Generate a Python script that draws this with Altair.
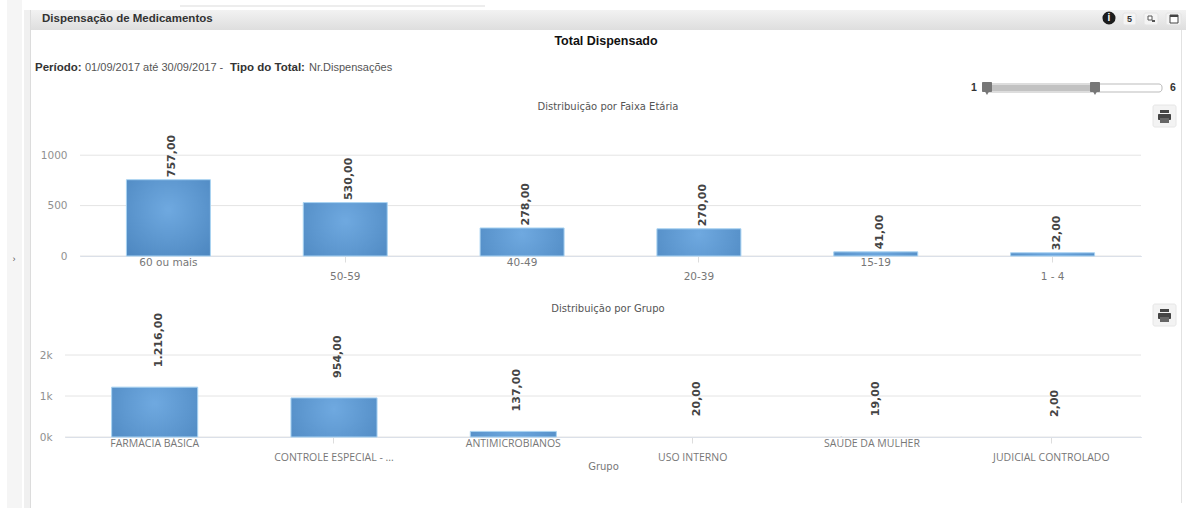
import altair as alt
import pandas as pd

# Age-band chart
age_labels = ["60 ou mais", "50-59", "40-49", "20-39", "15-19", "1 - 4"]
age_values = [757, 530, 278, 270, 41, 32]
age_ticks = [0, 500, 1000]

# Medication-group chart
group_labels = ["FARMÁCIA BÁSICA", "CONTROLE ESPECIAL - ...", "ANTIMICROBIANOS",
                "USO INTERNO", "SAÚDE DA MULHER", "JUDICIAL CONTROLADO"]
group_values = [1216, 954, 137, 20, 19, 2]
group_ticks = [0, 1000, 2000]


def br_number(v):
    return f"{v:,.2f}".replace(",", "X").replace(".", ",").replace("X", ".")


def table(labels, values):
    return pd.DataFrame({"cat": labels, "val": values,
                         "txt": [br_number(v) for v in values]})


ONE = alt.Data(values=[{"a": 1}])
BAR_FILL = alt.Gradient(
    gradient="radial", x1=0.5, y1=0.4, x2=0.5, y2=0.4, r1=0, r2=0.75,
    stops=[alt.GradientStop(color="#6fa9e0", offset=0),
           alt.GradientStop(color="#4c86bf", offset=1)],
)
HEADER_FILL = alt.Gradient(
    gradient="linear", x1=0, y1=0, x2=0, y2=1,
    stops=[alt.GradientStop(color="#f2f2f2", offset=0),
           alt.GradientStop(color="#dedede", offset=1)],
)


def box(x, x2, y, y2, fill="#ffffff", **kw):
    return alt.Chart(ONE).mark_rect(fill=fill, **kw).encode(
        x=alt.value(x), x2=alt.value(x2), y=alt.value(y), y2=alt.value(y2))


def label(x, y, text, size=10, color="#555555", font="Liberation Sans",
          weight="normal", align="left"):
    return alt.Chart(ONE).mark_text(
        text=text, fontSize=size, color=color, font=font, fontWeight=weight,
        align=align, baseline="middle",
    ).encode(x=alt.value(x), y=alt.value(y))


def printer(top):
    return [
        box(1153, 1176, top, top + 22, fill="#f3f3f3", cornerRadius=2, stroke="#e6e6e6"),
        box(1160, 1169, top + 5, top + 8, fill="#444444"),
        box(1158, 1171, top + 9, top + 15, fill="#444444", cornerRadius=1),
        box(1160, 1169, top + 13, top + 18, fill="#666666"),
    ]


def small_button(x, x2):
    return box(x, x2, 13, 25, fill="#f4f4f4", stroke="#e4e4e4", cornerRadius=2)


def marker(x, y, shape, color, size):
    return alt.Chart(ONE).mark_point(shape=shape, filled=True, color=color, size=size, opacity=1).encode(
        x=alt.value(x), y=alt.value(y))


frame = [
    box(0, 1186, 0, 508),
    box(7, 22, 0, 508, fill="#f5f5f5"),
    box(24, 30, 10, 508, fill="#f0f0f0"),
    box(30, 31, 10, 508, fill="#dcdcdc"),
    box(1181, 1182, 30, 503, fill="#e2e2e2"),
    box(180, 485, 5, 7, fill="#ededed"),
    box(31, 1186, 10, 30, fill=HEADER_FILL),
    label(42, 19, "Dispensação de Medicamentos", size=11.5, color="#333333", weight="bold"),
    label(606, 41, "Total Dispensado", size=12.5, color="#111111", weight="bold", align="center"),
    label(35, 68, "Período:", size=11.5, color="#333333", weight="bold"),
    label(85, 68, "01/09/2017 até 30/09/2017 -", size=11, color="#555555"),
    label(230, 68, "Tipo do Total:", size=11.5, color="#333333", weight="bold"),
    label(309, 68, "Nr.Dispensações", size=11, color="#555555"),
    label(608, 107, "Distribuição por Faixa Etária", size=10, font="DejaVu Sans", color="#555555", align="center"),
    label(608, 309, "Distribuição por Grupo", size=10, font="DejaVu Sans", color="#555555", align="center"),
    # Range slider
    box(985, 1162, 84, 92, stroke="#bbbbbb", cornerRadius=3),
    box(987, 1095, 85, 91, fill="#c2c2c2"),
    box(982, 992, 82, 92, fill="#777777", cornerRadius=1),
    box(1090, 1100, 82, 92, fill="#777777", cornerRadius=1),
    marker(987, 92, "triangle-down", "#777777", 50),
    marker(1095, 92, "triangle-down", "#777777", 50),
    label(974, 88, "1", size=10.5, color="#333333", weight="bold", align="center"),
    label(1173, 88, "6", size=10.5, color="#333333", weight="bold", align="center"),
    # Panel toolbar
    marker(1109, 18, "circle", "#1c1c1c", 170),
    label(1109, 18, "i", size=10, color="#ffffff", weight="bold", align="center"),
    small_button(1123, 1136),
    label(1129.5, 19, "5", size=9, color="#333333", weight="bold", align="center"),
    small_button(1144, 1158),
    box(1148, 1152, 16, 20, fill="#ffffff", stroke="#555555"),
    box(1152, 1155, 20, 22, fill="#555555"),
    small_button(1166, 1181),
    box(1170, 1178, 15, 23, fill="#ffffff", stroke="#444444"),
    box(1170, 1178, 15, 17, fill="#444444"),
    alt.Chart(ONE).mark_text(text="›", fontSize=9, color="#555555").encode(
        x=alt.value(14), y=alt.value(259)),
] + printer(105) + printer(304)

top_panel = alt.layer(*frame).properties(width=1186, height=130)


def bar_panel(df, ticks, ymax, height, xrange, padding, offset, gap, label_font,
              tick_expr, title=None):
    cats = list(df["cat"])
    scale = alt.Scale(domain=cats, range=xrange, paddingInner=padding, paddingOuter=padding / 2)
    low_row, high_row = cats[0::2], cats[1::2]
    shared = dict(orient="bottom", labelFont=label_font, labelFontSize=10.5, labelColor="#777777",
                  labelAngle=0, domainColor="#d3dcec", tickColor="#dddddd", labelLimit=200, grid=False)

    y_axis = alt.Axis(values=ticks, title=None, ticks=False, domain=False, labelPadding=0,
                      offset=offset, grid=False, labelFont="DejaVu Sans", labelFontSize=10.5,
                      labelColor="#909090", labelExpr=tick_expr)
    yscale = alt.Scale(domain=[0, ymax], nice=False)

    # Horizontal guide lines run only across the plotted span
    grid = alt.Chart(pd.DataFrame({"t": ticks})).mark_rule(color="#e4e4e4", strokeWidth=1).encode(
        y=alt.Y("t:Q", scale=yscale, axis=y_axis),
        x=alt.value(xrange[0]), x2=alt.value(xrange[1]),
    )
    # Bars of only a few units stay in the data but do not show at this scale
    bars = alt.Chart(df).mark_bar(fill=BAR_FILL, stroke="#a9d3f2", strokeWidth=1).encode(
        x=alt.X("cat:N", sort=cats, scale=scale, title=None,
                axis=alt.Axis(values=low_row, tickSize=0, labelPadding=1, **shared)),
        y=alt.Y("val:Q", scale=yscale),
        opacity=alt.condition("datum.val < 25", alt.value(0), alt.value(1)),
    )
    values = alt.Chart(df).mark_text(
        angle=270, align="left", baseline="middle", dx=gap, dy=4,
        font="DejaVu Sans", fontWeight="bold", fontSize=11, color="#444444",
    ).encode(
        x=alt.X("cat:N", sort=cats, scale=scale,
                title=title,
                axis=alt.Axis(values=high_row, tickSize=6, labelPadding=9, titlePadding=-1,
                              titleFont="DejaVu Sans", titleFontSize=10, titleColor="#777777",
                              titleFontWeight="normal", **shared)),
        y=alt.Y("val:Q", scale=yscale),
        text="txt:N",
    )
    return alt.layer(grid, bars, values).resolve_axis(x="independent").properties(width=1186, height=height)


age_panel = bar_panel(table(age_labels, age_values), age_ticks, 1250, 126, [80, 1141], 0.525,
                      -67, 2.5, "DejaVu Sans", "format(datum.value, 'd')")
group_panel = bar_panel(table(group_labels, group_values), group_ticks, 4415, 181, [65, 1141], 0.52,
                        -52, 20, "Open Sans", "format(datum.value / 1000, 'd') + 'k'", title="Grupo")

chart = alt.vconcat(
    top_panel, age_panel, group_panel, spacing=0, bounds="flush", padding=0, background="#ffffff"
).configure_view(stroke=None)

chart.save("out.html", embed_options={"renderer": "svg", "actions": False})
